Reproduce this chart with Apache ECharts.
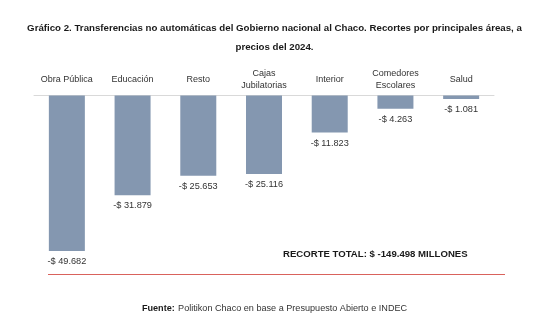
<!DOCTYPE html>
<html>
<head>
<meta charset="utf-8">
<script src="https://cdn.jsdelivr.net/npm/echarts@6/dist/echarts.min.js"></script>
<style>
  html, body { margin: 0; padding: 0; background: #fff; }
  #chart { width: 549px; height: 331px; }
</style>
</head>
<body>
<div id="chart"></div>
<script>
// Areas and cuts (millions of pesos, 2024 prices)
const categories = ['Obra Pública', 'Educación', 'Resto', 'Cajas\nJubilatorias', 'Interior', 'Comedores\nEscolares', 'Salud'];
const cuts = [-49682, -31879, -25653, -25116, -11823, -4263, -1081];
const totalLabel = 'RECORTE TOTAL: $ -149.498 MILLONES';

const FONT = '"Liberation Sans", Arial, sans-serif';

function fmtPeso(v) {
  const s = Math.abs(v).toString().replace(/\B(?=(\d{3})+(?!\d))/g, '.');
  return (v < 0 ? '-$ ' : '$ ') + s;
}

const chart = echarts.init(document.getElementById('chart'));
chart.setOption({
  backgroundColor: '#ffffff',
  animation: false,
  title: {
    text: 'Gráfico 2. Transferencias no automáticas del Gobierno nacional al Chaco. Recortes por principales áreas, a\nprecios del 2024.',
    left: 'center',
    top: 14,
    textStyle: {
      fontFamily: FONT,
      fontSize: 9.7,
      fontWeight: 'bold',
      color: '#1a1a1a',
      lineHeight: 19,
      align: 'center'
    }
  },
  grid: { left: 34, right: 55, top: 95.5, bottom: 47.7 },
  xAxis: {
    type: 'category',
    position: 'top',
    data: categories,
    axisLine: { show: true, lineStyle: { color: '#d9d9d9', width: 1 } },
    axisTick: { show: false },
    axisLabel: {
      fontFamily: FONT,
      fontSize: 9,
      color: '#333',
      margin: 16,
      verticalAlign: 'middle',
      lineHeight: 12,
      interval: 0
    }
  },
  yAxis: {
    type: 'value',
    min: -60000,
    max: 0,
    show: false,
    splitLine: { show: false }
  },
  series: [{
    type: 'bar',
    data: cuts,
    barWidth: 36,
    itemStyle: { color: '#8497b0' },
    label: {
      show: true,
      position: 'bottom',
      distance: 6,
      fontFamily: FONT,
      fontSize: 9.2,
      color: '#333',
      formatter: p => fmtPeso(p.value)
    }
  }],
  graphic: [
    {
      type: 'text',
      left: 283,
      top: 249,
      style: {
        text: totalLabel,
        fontFamily: FONT,
        fontSize: 9.6,
        fontWeight: 'bold',
        fill: '#1a1a1a'
      }
    },
    {
      type: 'line',
      shape: { x1: 48, y1: 274.5, x2: 505, y2: 274.5 },
      style: { stroke: '#d9625c', lineWidth: 1 }
    },
    {
      type: 'text',
      left: 'center',
      top: 302,
      style: {
        rich: {
          b: { fontFamily: FONT, fontSize: 9.1, fontWeight: 'bold', fill: '#1a1a1a' },
          n: { fontFamily: FONT, fontSize: 9.1, fill: '#333' }
        },
        text: '{b|Fuente:} {n|Politikon Chaco en base a Presupuesto Abierto e INDEC}'
      }
    }
  ]
});
</script>
</body>
</html>
